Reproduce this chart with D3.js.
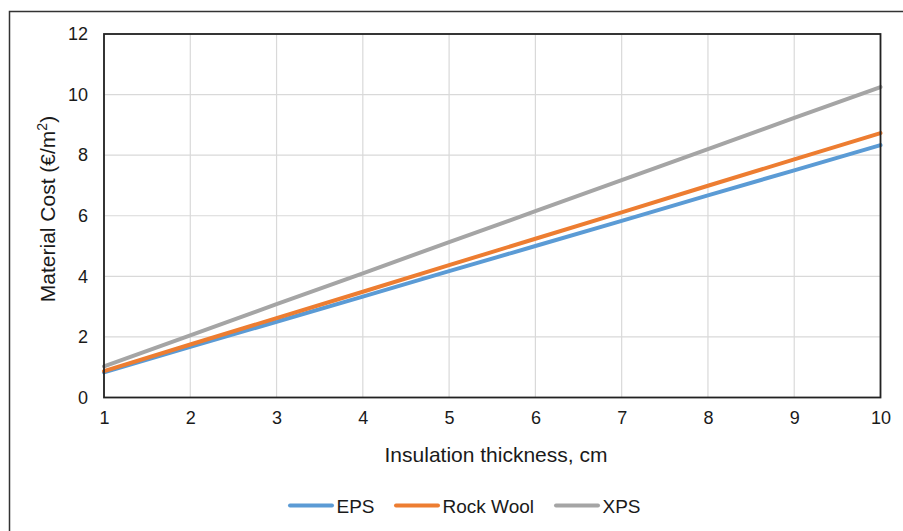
<!DOCTYPE html>
<html>
<head>
<meta charset="utf-8">
<script src="https://cdn.jsdelivr.net/npm/d3@7"></script>
<style>
  html, body { margin: 0; padding: 0; background: #fff; }
  svg { display: block; font-family: "Liberation Sans", Arial, sans-serif; }
</style>
</head>
<body>
<svg id="chart" width="903" height="531"></svg>
<script>
// Insulation thickness (cm) and material cost (€/m²) per material
const thickness = [1, 2, 3, 4, 5, 6, 7, 8, 9, 10];
const eps       = [0.83, 1.67, 2.50, 3.33, 4.17, 5.00, 5.83, 6.67, 7.50, 8.33];
const rockWool  = [0.87, 1.75, 2.62, 3.49, 4.37, 5.24, 6.11, 6.99, 7.86, 8.73];
const xps       = [1.03, 2.05, 3.08, 4.10, 5.13, 6.15, 7.18, 8.20, 9.23, 10.25];
const yTicks    = [0, 2, 4, 6, 8, 10, 12];
const seriesNames = ["EPS", "Rock Wool", "XPS"];
const seriesColors = ["#5B9BD5", "#ED7D31", "#A5A5A5"];

const series = [eps, rockWool, xps].map((vals, i) => ({
  name: seriesNames[i],
  color: seriesColors[i],
  points: thickness.map((t, j) => ({ x: t, y: vals[j] }))
}));

const FONT = "Liberation Sans, Arial, sans-serif";
const TEXT = "#1a1a1a";
const svg = d3.select("#chart");
const plot = { left: 104, top: 34, right: 880.5, bottom: 397.5 };

// outer chart frame
svg.append("rect")
  .attr("x", 9.5).attr("y", 11.5)
  .attr("width", 1000).attr("height", 1000)
  .attr("fill", "none").attr("stroke", "#333").attr("stroke-width", 1.5);

const x = d3.scaleLinear().domain([1, 10]).range([plot.left, plot.right]);
const y = d3.scaleLinear().domain([0, 12]).range([plot.bottom, plot.top]);

// gridlines
const grid = svg.append("g");
grid.selectAll("line.h").data(yTicks).join("line")
  .attr("x1", plot.left).attr("x2", plot.right)
  .attr("y1", d => y(d)).attr("y2", d => y(d))
  .attr("stroke", "#d9d9d9").attr("stroke-width", 1.2);
grid.selectAll("line.v").data(thickness).join("line")
  .attr("y1", plot.top).attr("y2", plot.bottom)
  .attr("x1", d => x(d)).attr("x2", d => x(d))
  .attr("stroke", "#d9d9d9").attr("stroke-width", 1.2);

// series lines
const line = d3.line().x(d => x(d.x)).y(d => y(d.y));
svg.append("g").selectAll("path").data(series).join("path")
  .attr("d", d => line(d.points))
  .attr("fill", "none")
  .attr("stroke", d => d.color)
  .attr("stroke-width", 4)
  .attr("stroke-linecap", "round");

// plot area border
svg.append("rect")
  .attr("x", plot.left).attr("y", plot.top)
  .attr("width", plot.right - plot.left).attr("height", plot.bottom - plot.top)
  .attr("fill", "none").attr("stroke", "#222").attr("stroke-width", 1.8);

// axes
const xAxis = d3.axisBottom(x).tickValues(thickness).tickSize(0).tickPadding(14);
svg.append("g").attr("transform", `translate(0,${plot.bottom})`).call(xAxis)
  .attr("font-size", 18).attr("font-family", FONT)
  .call(g => g.select(".domain").remove())
  .call(g => g.selectAll("text").attr("fill", TEXT).attr("dy", "0.71em"));

const yAxis = d3.axisLeft(y).tickValues(yTicks).tickSize(0).tickPadding(16);
svg.append("g").attr("transform", `translate(${plot.left},0)`).call(yAxis)
  .attr("font-size", 18).attr("font-family", FONT)
  .call(g => g.select(".domain").remove())
  .call(g => g.selectAll("text").attr("fill", TEXT));

// axis titles
svg.append("text")
  .attr("x", 496).attr("y", 462)
  .attr("text-anchor", "middle").attr("font-size", 21).attr("fill", TEXT)
  .text("Insulation thickness, cm");

const yTitle = svg.append("text")
  .attr("transform", `translate(55,209) rotate(-90)`)
  .attr("text-anchor", "middle").attr("font-size", 21).attr("fill", TEXT);
yTitle.append("tspan").text("Material Cost (€/m");
yTitle.append("tspan").attr("baseline-shift", "super").attr("font-size", 14).text("2");
yTitle.append("tspan").text(")");

// legend
const legendItems = [
  { x: 290, name: seriesNames[0], color: seriesColors[0] },
  { x: 396, name: seriesNames[1], color: seriesColors[1] },
  { x: 556, name: seriesNames[2], color: seriesColors[2] }
];
const lg = svg.append("g").selectAll("g").data(legendItems).join("g")
  .attr("transform", d => `translate(${d.x},505.5)`);
lg.append("line").attr("x1", 0).attr("x2", 42).attr("y1", 0).attr("y2", 0)
  .attr("stroke", d => d.color).attr("stroke-width", 4).attr("stroke-linecap", "round");
lg.append("text").attr("x", 46.5).attr("y", 7)
  .attr("font-size", 19).attr("fill", TEXT).text(d => d.name);
</script>
</body>
</html>
